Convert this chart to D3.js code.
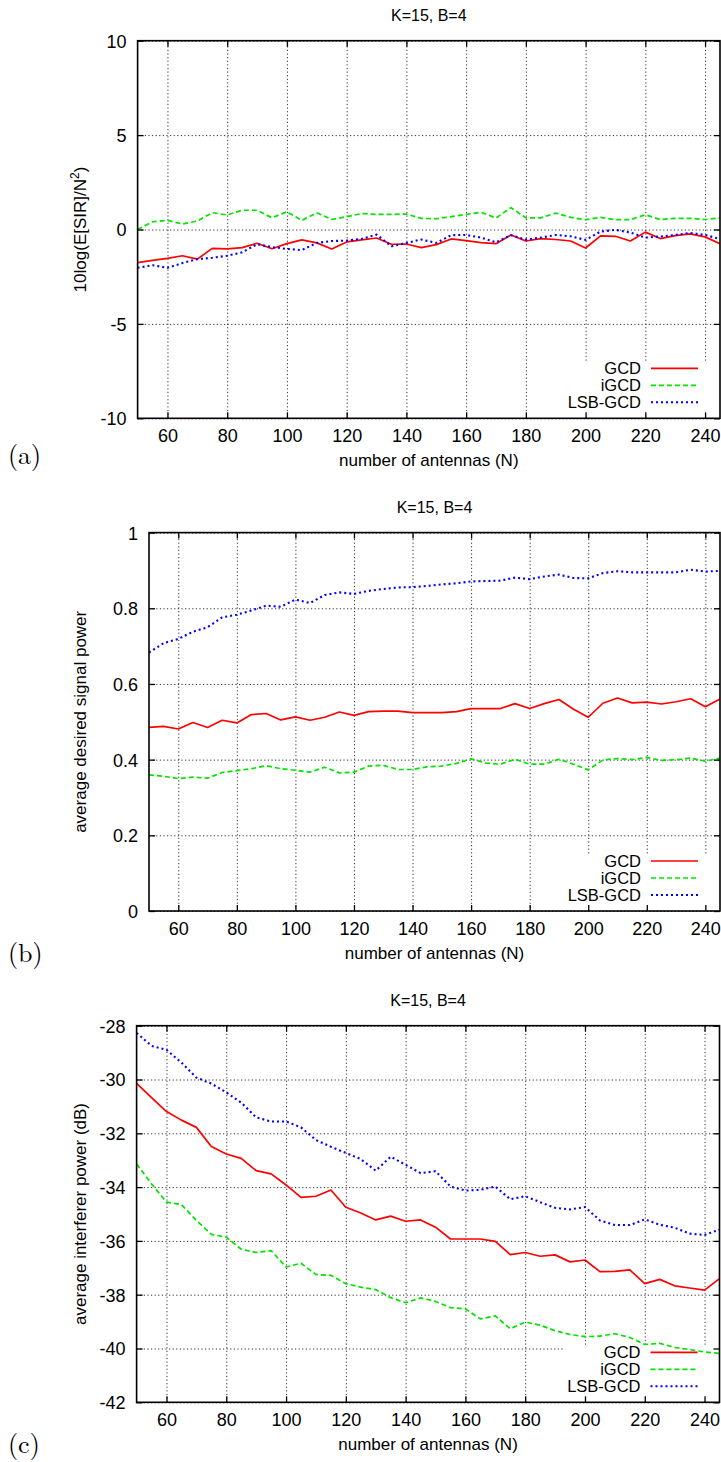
<!DOCTYPE html>
<html>
<head>
<meta charset="utf-8">
<script src="https://cdn.jsdelivr.net/npm/d3@7"></script>
<style>
  body { margin: 0; background: #fff; }
  svg { display: block; }
</style>
</head>
<body>
<svg id="fig" width="721" height="1462"></svg>
<script>
// Number of base-station antennas N (x axis, shared by all three panels)
const antennas = [50, 55, 60, 65, 70, 75, 80, 85, 90, 95,
                  100, 105, 110, 115, 120, 125, 130, 135, 140, 145,
                  150, 155, 160, 165, 170, 175, 180, 185, 190, 195,
                  200, 205, 210, 215, 220, 225, 230, 235, 240, 245];

const seriesNames = ["GCD", "iGCD", "LSB-GCD"];
const xTickValues = [60, 80, 100, 120, 140, 160, 180, 200, 220, 240];

// (a) normalised SIR, 10log(E[SIR]/N^2)
const sirGCD = [-1.75, -1.64, -1.53, -1.39, -1.57, -1.00, -1.03, -0.96, -0.73, -1.02,
                -0.75, -0.55, -0.71, -1.03, -0.66, -0.55, -0.45, -0.78, -0.77, -0.96,
                -0.80, -0.50, -0.59, -0.70, -0.75, -0.29, -0.61, -0.48, -0.53, -0.61,
                -0.98, -0.34, -0.36, -0.61, -0.14, -0.48, -0.32, -0.23, -0.39, -0.75];
const sirIGCD = [0.00, 0.41, 0.48, 0.29, 0.45, 0.89, 0.77, 1.02, 1.02, 0.62,
                 0.94, 0.48, 0.89, 0.53, 0.68, 0.84, 0.80, 0.80, 0.82, 0.59,
                 0.57, 0.68, 0.80, 0.91, 0.61, 1.16, 0.62, 0.62, 0.87, 0.64,
                 0.52, 0.64, 0.52, 0.52, 0.78, 0.53, 0.59, 0.59, 0.53, 0.61];
const sirLSB = [-2.03, -1.89, -2.03, -1.78, -1.57, -1.50, -1.39, -1.21, -0.78, -0.93,
                -1.03, -1.09, -0.71, -0.61, -0.59, -0.50, -0.27, -0.89, -0.71, -0.53,
                -0.71, -0.30, -0.29, -0.43, -0.68, -0.30, -0.53, -0.43, -0.29, -0.36,
                -0.55, -0.11, -0.02, -0.16, -0.43, -0.37, -0.29, -0.18, -0.29, -0.50];
const sirTicks = [-10, -5, 0, 5, 10];

// (b) average desired signal power
const sigGCD = [0.485, 0.488, 0.481, 0.498, 0.485, 0.504, 0.497, 0.519, 0.522, 0.505,
                0.513, 0.504, 0.512, 0.526, 0.517, 0.527, 0.528, 0.528, 0.524, 0.524,
                0.524, 0.527, 0.535, 0.535, 0.535, 0.548, 0.535, 0.548, 0.559, 0.533,
                0.512, 0.549, 0.563, 0.550, 0.552, 0.547, 0.553, 0.561, 0.540, 0.560];
const sigIGCD = [0.360, 0.356, 0.350, 0.354, 0.351, 0.366, 0.371, 0.376, 0.384, 0.376,
                 0.372, 0.367, 0.380, 0.365, 0.367, 0.383, 0.385, 0.374, 0.374, 0.381,
                 0.383, 0.390, 0.402, 0.391, 0.388, 0.401, 0.388, 0.388, 0.401, 0.388,
                 0.373, 0.399, 0.403, 0.400, 0.406, 0.398, 0.400, 0.404, 0.396, 0.404];
const sigLSB = [0.683, 0.708, 0.719, 0.738, 0.750, 0.776, 0.783, 0.794, 0.807, 0.804,
                0.823, 0.814, 0.835, 0.842, 0.838, 0.846, 0.851, 0.855, 0.856, 0.859,
                0.863, 0.866, 0.871, 0.872, 0.873, 0.881, 0.877, 0.884, 0.889, 0.880,
                0.879, 0.893, 0.898, 0.895, 0.895, 0.895, 0.895, 0.902, 0.897, 0.899];
const sigTicks = [0, 0.2, 0.4, 0.6, 0.8, 1];

// (c) average interferer power in dB
const intGCD = [-30.14, -30.67, -31.19, -31.51, -31.78, -32.49, -32.77, -32.93, -33.39, -33.51,
                -33.92, -34.38, -34.34, -34.11, -34.75, -34.96, -35.22, -35.08, -35.27, -35.22,
                -35.49, -35.93, -35.93, -35.93, -36.02, -36.51, -36.43, -36.57, -36.52, -36.78,
                -36.71, -37.14, -37.13, -37.08, -37.59, -37.43, -37.67, -37.75, -37.83, -37.40];
const intIGCD = [-33.14, -33.88, -34.56, -34.65, -35.24, -35.76, -35.86, -36.31, -36.43, -36.36,
                 -36.97, -36.83, -37.25, -37.28, -37.59, -37.72, -37.81, -38.11, -38.30, -38.12,
                 -38.25, -38.48, -38.53, -38.90, -38.79, -39.27, -39.02, -39.13, -39.34, -39.48,
                 -39.56, -39.54, -39.45, -39.59, -39.85, -39.81, -39.96, -40.04, -40.13, -40.18];
const intLSB = [-28.27, -28.75, -28.90, -29.37, -29.93, -30.15, -30.48, -30.86, -31.41, -31.56,
                -31.56, -31.78, -32.25, -32.50, -32.73, -32.96, -33.39, -32.87, -33.17, -33.48,
                -33.41, -33.98, -34.13, -34.10, -33.98, -34.45, -34.34, -34.56, -34.77, -34.83,
                -34.74, -35.24, -35.41, -35.41, -35.20, -35.40, -35.51, -35.73, -35.78, -35.58];
const intTicks = [-42, -40, -38, -36, -34, -32, -30, -28];

// ---------------------------------------------------------------------------
const SANS = "'Liberation Sans', Arial, Helvetica, sans-serif";
const SERIF = "'Latin Modern Roman', 'DejaVu Serif', 'Liberation Serif', serif";

const lineStyles = [
  { color: "#ff0000", dash: null,  width: 1.7 },
  { color: "#00e400", dash: "5,3", width: 1.7 },
  { color: "#0000ff", dash: "2,3", width: 2.1 }
];

const panels = [
  { tag: "(a)", tagY: 464, left: 137.6, right: 720, top: 40.7, bottom: 418.3,
    yDomain: [-10, 10], yTicks: sirTicks, ylabel: "sir",
    series: [sirGCD, sirIGCD, sirLSB] },
  { tag: "(b)", tagY: 962, left: 149, right: 720, top: 532.6, bottom: 911,
    yDomain: [0, 1], yTicks: sigTicks, ylabel: "average desired signal power",
    series: [sigGCD, sigIGCD, sigLSB] },
  { tag: "(c)", tagY: 1453, left: 136.6, right: 719.5, top: 1025.7, bottom: 1402.3,
    yDomain: [-42, -28], yTicks: intTicks, ylabel: "average interferer power (dB)",
    series: [intGCD, intIGCD, intLSB] }
];

const svg = d3.select("#fig");
svg.append("rect").attr("width", 721).attr("height", 1462).attr("fill", "#fff");

// plain ASCII hyphen for negative tick labels
const tickText = d => String(d);

panels.forEach((p, pi) => {
  const x = d3.scaleLinear().domain([50, 245]).range([p.left, p.right]);
  const y = d3.scaleLinear().domain(p.yDomain).range([p.bottom, p.top]);
  const g = svg.append("g");
  const w = p.right - p.left, h = p.bottom - p.top;

  // grid
  const grid = g.append("g").attr("class", "grid");
  grid.append("g")
    .attr("transform", `translate(0,${p.bottom})`)
    .call(d3.axisBottom(x).tickValues(xTickValues).tickSize(-h).tickFormat(""))
    .call(s => s.select(".domain").remove());
  grid.append("g")
    .attr("transform", `translate(${p.left},0)`)
    .call(d3.axisLeft(y).tickValues(p.yTicks).tickSize(-w).tickFormat(""))
    .call(s => s.select(".domain").remove());
  grid.selectAll("line")
    .attr("stroke", "#333").attr("stroke-width", 1)
    .attr("stroke-dasharray", "1.2,2.4");

  // key background hides the grid behind the legend
  const keyTop = p.bottom - 57;
  g.append("rect")
    .attr("x", 565).attr("y", keyTop)
    .attr("width", p.right - 565 - 1).attr("height", p.bottom - keyTop - 1)
    .attr("fill", "#fff");

  // data lines
  const clipId = "clip" + pi;
  g.append("clipPath").attr("id", clipId)
    .append("rect").attr("x", p.left).attr("y", p.top).attr("width", w).attr("height", h);
  const line = d3.line().x((d, i) => x(antennas[i])).y(d => y(d));
  p.series.forEach((vals, si) => {
    const st = lineStyles[si];
    g.append("path")
      .datum(vals)
      .attr("clip-path", `url(#${clipId})`)
      .attr("d", line)
      .attr("fill", "none")
      .attr("stroke", st.color)
      .attr("stroke-width", st.width)
      .attr("stroke-dasharray", st.dash)
      .attr("stroke-linejoin", "round");
  });

  // axes: tick labels with inward ticks, mirrored on the opposite side
  const yAxis = g.append("g")
    .attr("transform", `translate(${p.left},0)`)
    .call(d3.axisLeft(y).tickValues(p.yTicks).tickSize(-6).tickPadding(11).tickFormat(tickText));
  const xAxis = g.append("g")
    .attr("transform", `translate(0,${p.bottom})`)
    .call(d3.axisBottom(x).tickValues(xTickValues).tickSize(-6).tickPadding(11).tickFormat(tickText));
  g.append("g")
    .attr("transform", `translate(${p.right},0)`)
    .call(d3.axisRight(y).tickValues(p.yTicks).tickSize(-6).tickFormat(""));
  g.append("g")
    .attr("transform", `translate(0,${p.top})`)
    .call(d3.axisTop(x).tickValues(xTickValues).tickSize(-6).tickFormat(""));
  g.selectAll(".domain").remove();
  g.selectAll(".tick line").filter(function () { return !this.closest(".grid"); })
    .attr("stroke", "#000").attr("stroke-width", 1.3);
  [yAxis, xAxis].forEach(a => a.selectAll("text")
    .attr("font-family", SANS).attr("font-size", 18).attr("fill", "#000"));
  xAxis.selectAll("text").attr("dy", "0.71em");
  yAxis.selectAll("text").attr("dy", "0.36em");

  // frame
  g.append("rect")
    .attr("x", p.left).attr("y", p.top).attr("width", w).attr("height", h)
    .attr("fill", "none").attr("stroke", "#000").attr("stroke-width", 1.6);

  // title
  const cx = (p.left + p.right) / 2;
  g.append("text")
    .attr("x", cx).attr("y", p.top - 20)
    .attr("text-anchor", "middle")
    .attr("font-family", SANS).attr("font-size", 16)
    .text("K=15, B=4");

  // x label
  g.append("text")
    .attr("x", cx).attr("y", p.bottom + 48)
    .attr("text-anchor", "middle")
    .attr("font-family", SANS).attr("font-size", 17)
    .text("number of antennas (N)");

  // y label
  const yl = g.append("text")
    .attr("transform", `translate(86,${(p.top + p.bottom) / 2}) rotate(-90)`)
    .attr("text-anchor", "middle")
    .attr("font-family", SANS).attr("font-size", 17);
  if (p.ylabel === "sir") {
    yl.append("tspan").text("10log(E[SIR]/N");
    yl.append("tspan").attr("font-size", 12).attr("dy", -7).text("2");
    yl.append("tspan").attr("dy", 7).text(")");
  } else {
    yl.text(p.ylabel);
  }

  // key
  const rows = [p.bottom - 50, p.bottom - 33, p.bottom - 16];
  seriesNames.forEach((name, si) => {
    const st = lineStyles[si];
    g.append("text")
      .attr("x", p.right - 79).attr("y", rows[si] + 6)
      .attr("text-anchor", "end")
      .attr("font-family", SANS).attr("font-size", 16.5)
      .text(name);
    g.append("line")
      .attr("x1", p.right - 69).attr("x2", p.right - 22)
      .attr("y1", rows[si]).attr("y2", rows[si])
      .attr("stroke", st.color).attr("stroke-width", st.width)
      .attr("stroke-dasharray", st.dash);
  });

  // panel tag
  svg.append("text")
    .attr("x", 8).attr("y", p.tagY)
    .attr("font-family", SERIF).attr("font-size", 26)
    .text(p.tag);
});
</script>
</body>
</html>
